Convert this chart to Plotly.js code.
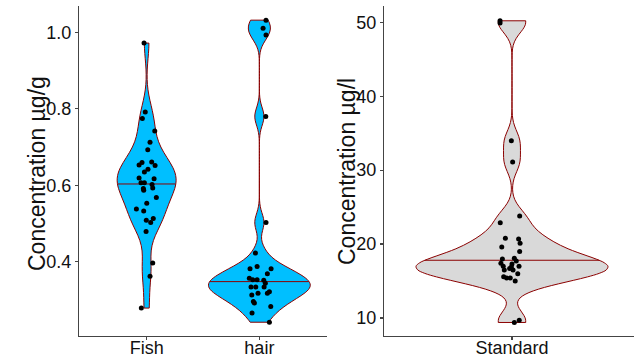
<!DOCTYPE html>
<html><head><meta charset="utf-8">
<script src="https://cdn.plot.ly/plotly-3.0.1.min.js"></script>
<style>html,body{margin:0;padding:0;background:#fff}#chart{width:634px;height:356px}</style>
</head><body><div id="chart"></div>
<script>
// ---- data ----
const leftCategories = ['Fish', 'hair'];
const rightCategories = ['Standard'];

const fishValues = [0.972,0.792,0.775,0.742,0.713,0.693,0.653,0.660,0.661,0.652,0.642,0.635,0.619,0.617,0.607,0.607,0.602,0.592,0.593,0.587,0.568,0.553,0.538,0.533,0.513,0.509,0.503,0.479,0.397,0.362,0.279];
const fishJitter = [-0.023,-0.012,-0.038,0.072,0.030,0.010,-0.067,-0.041,0.045,0.075,0.012,-0.020,-0.067,0.066,-0.050,-0.020,0.048,-0.029,0.054,-0.026,0.086,0.001,-0.091,-0.026,0.059,-0.003,0.036,-0.005,0.054,0.030,-0.047];

const hairValues = [1.032,1.011,0.993,0.780,0.503,0.423,0.382,0.388,0.382,0.369,0.357,0.353,0.353,0.352,0.344,0.334,0.334,0.334,0.322,0.318,0.313,0.318,0.296,0.292,0.283,0.266,0.242];
const hairJitter = [0.059,0.033,0.059,0.057,0.059,-0.035,-0.083,-0.020,0.104,0.071,-0.089,-0.059,-0.020,0.039,0.053,-0.074,-0.032,0.042,0.089,0.071,-0.067,-0.012,-0.053,-0.044,0.101,-0.065,0.089];

const standardValues = [50.2,49.9,33.96,31.1,22.9,23.8,20.8,19.6,20.7,20.1,19.0,18.0,17.4,17.0,18.1,17.7,17.3,16.9,17.0,16.7,16.5,16.5,15.6,15.4,15.4,16.0,15.0,9.4,9.7];
const standardJitter = [-0.056,-0.056,-0.003,0.003,-0.055,0.036,-0.031,-0.048,0.031,0.038,0.036,-0.045,-0.052,-0.041,0.011,0.020,0.0,-0.003,0.033,-0.011,0.005,-0.036,-0.039,-0.025,-0.008,0.027,0.015,0.011,0.034];

const leftTickVals = [0.4, 0.6, 0.8, 1.0];
const leftTickText = ['0.4', '0.6', '0.8', '1.0'];
const rightTickVals = [10, 20, 30, 40, 50];
const rightTickText = ['10', '20', '30', '40', '50'];
const leftTitle = 'Concentration µg/g';
const rightTitle = 'Concentration µg/l';

// ---- helpers (density like ggplot geom_violin) ----
function q7(s, p){ const h=(s.length-1)*p, lo=Math.floor(h); return s[lo]+(h-lo)*((s[lo+1]===undefined?s[lo]:s[lo+1])-s[lo]); }
function nrd0(v){
  const s=[...v].sort((a,b)=>a-b), n=s.length;
  const m=s.reduce((a,b)=>a+b,0)/n;
  const sd=Math.sqrt(s.reduce((a,b)=>a+(b-m)*(b-m),0)/(n-1));
  const iqr=q7(s,0.75)-q7(s,0.25);
  return 0.9*Math.min(sd, iqr/1.34)*Math.pow(n,-0.2);
}
function densityInfo(v){
  const bw=nrd0(v), n=v.length;
  const lo=Math.min(...v), hi=Math.max(...v), N=512;
  const ys=[], ds=[];
  for(let i=0;i<N;i++){
    const y=lo+(hi-lo)*i/(N-1); let d=0;
    for(const x of v){ const u=(y-x)/bw; d+=Math.exp(-0.5*u*u); }
    d/= n*bw*Math.sqrt(2*Math.PI);
    ys.push(y); ds.push(d);
  }
  const max=Math.max(...ds);
  const tot=ds.reduce((a,b)=>a+b,0);
  let c=0, med=ys[0], medD=ds[0], prevC=0;
  for(let i=0;i<N;i++){
    prevC=c; c+=ds[i]/tot;
    if(c>=0.5){
      const f = i===0?0:(0.5-prevC)/(c-prevC);
      med = i===0?ys[0]:ys[i-1]+f*(ys[i]-ys[i-1]);
      medD = i===0?ds[0]:ds[i-1]+f*(ds[i]-ds[i-1]);
      break;
    }
  }
  return {bw, max, med, medD};
}

const fishD = densityInfo(fishValues), hairD = densityInfo(hairValues), stdD = densityInfo(standardValues);
const leftMax = Math.max(fishD.max, hairD.max);
const fishW = 0.9*fishD.max/leftMax, hairW = 0.9*hairD.max/leftMax, stdW = 0.9;

const outline = '#8B0000';
function violin(vals, pos, info, width, fill, xa, ya){
  return {type:'violin', orientation:'v', x0:pos, y:vals, xaxis:xa, yaxis:ya,
    bandwidth:info.bw, spanmode:'hard', scalemode:'width', width:width,
    points:false, fillcolor:fill, line:{color:outline, width:1},
    box:{visible:false}, meanline:{visible:false}, hoverinfo:'skip', showlegend:false};
}
function medLine(pos, info, width, xa, ya){
  const hw = width/2*info.medD/info.max;
  return {type:'scatter', mode:'lines', x:[pos-hw, pos+hw], y:[info.med, info.med], xaxis:xa, yaxis:ya,
    line:{color:outline, width:1}, hoverinfo:'skip', showlegend:false};
}
function pts(vals, jit, pos, xa, ya){
  return {type:'scatter', mode:'markers', x:jit.map(j=>pos+j), y:vals, xaxis:xa, yaxis:ya,
    marker:{color:'#000', size:5}, hoverinfo:'skip', showlegend:false};
}

const data = [
  violin(fishValues, 1, fishD, fishW, '#00BFFF', 'x', 'y'),
  violin(hairValues, 2, hairD, hairW, '#00BFFF', 'x', 'y'),
  violin(standardValues, 1, stdD, stdW, '#D9D9D9', 'x2', 'y2'),
  medLine(1, fishD, fishW, 'x', 'y'),
  medLine(2, hairD, hairW, 'x', 'y'),
  medLine(1, stdD, stdW, 'x2', 'y2'),
  pts(fishValues, fishJitter, 1, 'x', 'y'),
  pts(hairValues, hairJitter, 2, 'x', 'y'),
  pts(standardValues, standardJitter, 1, 'x2', 'y2')
];

const W=634, H=356;
const font = {family:'Liberation Sans, Arial, sans-serif', size:18, color:'#111'};
const axBase = {showline:true, linecolor:'#444', linewidth:1.2, ticks:'outside', ticklen:3, tickwidth:1.2, tickcolor:'#444',
  showgrid:false, zeroline:false, fixedrange:true, automargin:false, tickfont:font};
const yDom = [20/H, 350/H];
const layout = {
  width:W, height:H, margin:{l:0,r:0,t:0,b:0}, paper_bgcolor:'#fff', plot_bgcolor:'#fff',
  showlegend:false, violinmode:'overlay', font:font,
  xaxis: Object.assign({}, axBase, {domain:[79/W, 327/W], range:[0.4,2.6], tickvals:[1,2], ticktext:leftCategories, anchor:'y', ticklabelstandoff:-8}),
  yaxis: Object.assign({}, axBase, {domain:yDom, range:[0.206,1.069], tickvals:leftTickVals, ticktext:leftTickText, anchor:'x'}),
  xaxis2: Object.assign({}, axBase, {domain:[384/W, 1], range:[0.4,1.572], tickvals:[1], ticktext:rightCategories, anchor:'y2', ticklabelstandoff:-8}),
  yaxis2: Object.assign({}, axBase, {domain:yDom, range:[7.57,52.2], tickvals:rightTickVals, ticktext:rightTickText, anchor:'x2'}),
  annotations: [
    {text:leftTitle, xref:'paper', yref:'paper', x:37/W, y:1-174/H, textangle:-90, showarrow:false,
     xanchor:'center', yanchor:'middle', font:{family:font.family, size:23, color:'#111'}},
    {text:rightTitle, xref:'paper', yref:'paper', x:347/W, y:1-172/H, textangle:-90, showarrow:false,
     xanchor:'center', yanchor:'middle', font:{family:font.family, size:23, color:'#111'}}
  ]
};
Plotly.newPlot('chart', data, layout, {staticPlot:true, displayModeBar:false});
</script>
</body></html>
